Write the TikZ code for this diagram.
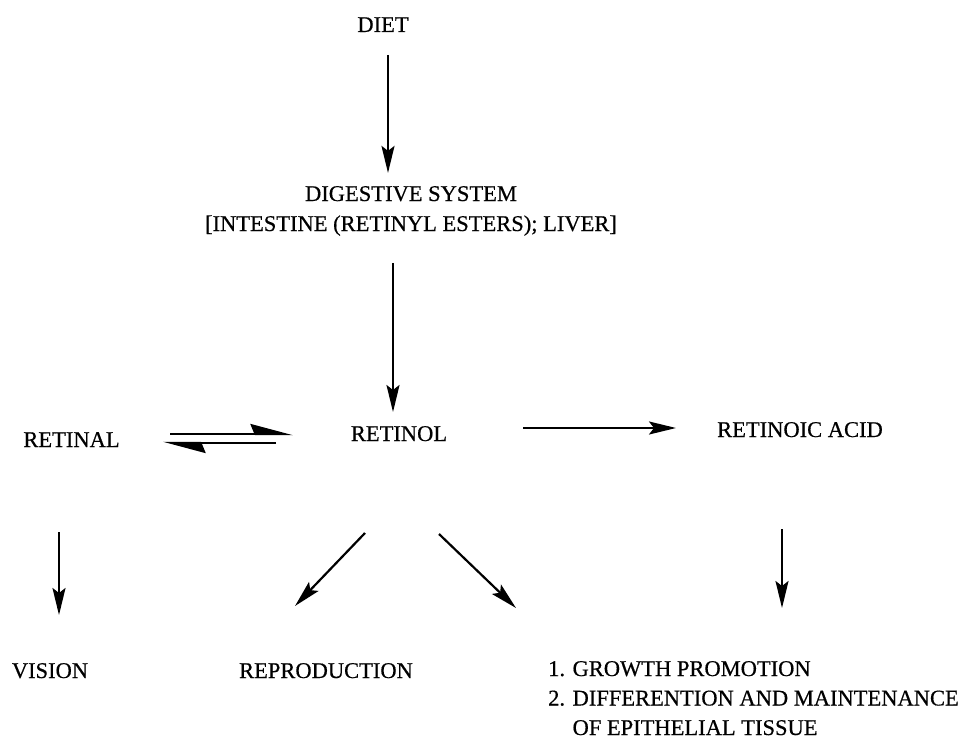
\documentclass[tikz,border=0pt]{standalone}
\usepackage{fontspec}
\setmainfont{Liberation Serif}[FakeBold=0.5]
\usetikzlibrary{arrows.meta}

\begin{document}
\begin{tikzpicture}[x=1pt,y=-1pt,
   every node/.style={inner sep=0pt,anchor=base,font=\fontsize{22.5}{30}\selectfont},
   flow/.style={line width=2.2pt,-{Stealth[length=27pt,width=13pt,inset=5pt]}},
   eq/.style={line width=2.4pt,-{Stealth[harpoon,length=38pt,width=20pt,inset=4pt]}}]
\useasboundingbox (0,0) rectangle (973,738);
% compounds
\node (diet) at (383,32) {DIET};
\node[align=center] (dig) at (411,231) {DIGESTIVE SYSTEM\\ {[}INTESTINE (RETINYL ESTERS); LIVER{]}};
\node (retinal) at (71.5,447) {RETINAL};
\node (retinol) at (399,441) {RETINOL};
\node (acid) at (800,437) {RETINOIC ACID};
% functions
\node (vision) at (50,678) {VISION};
\node (repro) at (326,678) {REPRODUCTION};
\node[anchor=base west,font=\fontsize{22.5}{29.5}\selectfont] (uses) at (548,676) {\begin{tabular}[t]{@{}l@{ }l@{}}
   1. & GROWTH PROMOTION\\
   2. & DIFFERENTION AND MAINTENANCE\\
      & OF EPITHELIAL TISSUE
   \end{tabular}};
% arrows
\draw[flow] ([xshift=5pt,yshift=-23pt]diet.base) -- ([xshift=-23pt,yshift=13pt]dig.north);
\draw[flow] ([xshift=-18pt,yshift=-27pt]dig.south) -- ([xshift=-6pt,yshift=29pt]retinol.base);
\draw[eq] ([xshift=98.5pt,yshift=13pt]retinal.base) -- ([xshift=-106pt,yshift=7pt]retinol.base);
\draw[eq] ([xshift=-123pt,yshift=-2pt]retinol.base) -- ([xshift=91.5pt,yshift=4pt]retinal.base);
\draw[flow] ([xshift=124pt,yshift=13pt]retinol.base) -- ([xshift=-124pt,yshift=9pt]acid.base);
\draw[flow] ([xshift=-12.5pt,yshift=-85pt]retinal.base) -- ([xshift=9pt,yshift=63pt]vision.base);
\draw[flow] ([xshift=-18pt,yshift=-92pt]acid.base) -- ([xshift=234pt,yshift=68pt]uses.base west);
\draw[flow] ([xshift=-34pt,yshift=-92pt]retinol.base) -- ([xshift=-31pt,yshift=72pt]repro.base);
\draw[flow] ([xshift=40pt,yshift=-93pt]retinol.base) -- ([xshift=-32pt,yshift=68pt]uses.base west);
\end{tikzpicture}
\end{document}
